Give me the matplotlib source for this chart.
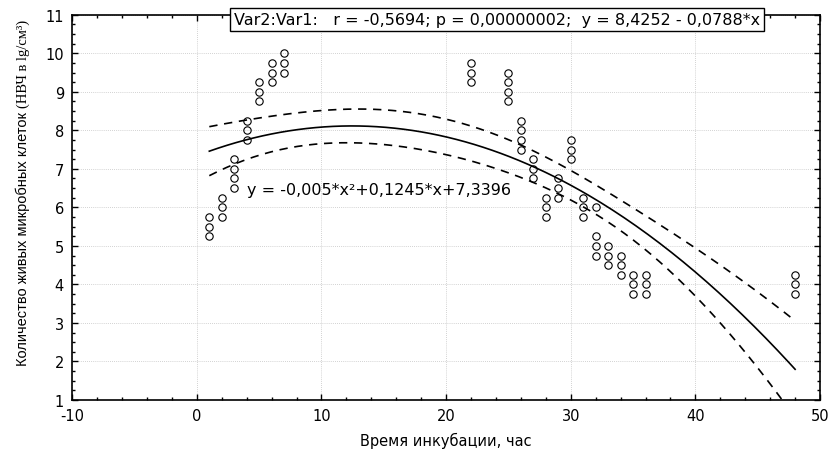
import numpy as np
import matplotlib.pyplot as plt
from matplotlib.ticker import MultipleLocator
from matplotlib import font_manager

plt.rcParams['font.family'] = ['DejaVu Sans']
plt.rcParams['axes.unicode_minus'] = False

names = {f.name for f in font_manager.fontManager.ttflist}
narrow = 'Liberation Sans Narrow' if 'Liberation Sans Narrow' in names else 'Liberation Sans'

# incubation time (h) and log counts
hours = [1, 1, 1,
         2, 2, 2,
         3, 3, 3, 3,
         4, 4, 4,
         5, 5, 5,
         6, 6, 6,
         7, 7, 7,
         22, 22, 22,
         25, 25, 25, 25,
         26, 26, 26, 26,
         27, 27, 27,
         28, 28, 28,
         29, 29, 29,
         30, 30, 30,
         31, 31, 31,
         32, 32, 32, 32,
         33, 33, 33,
         34, 34, 34,
         35, 35, 35,
         36, 36, 36,
         48, 48, 48]
counts = [5.25, 5.5, 5.75,
          5.75, 6.0, 6.25,
          6.5, 6.75, 7.0, 7.25,
          7.75, 8.0, 8.25,
          8.75, 9.0, 9.25,
          9.25, 9.5, 9.75,
          9.5, 9.75, 10.0,
          9.25, 9.5, 9.75,
          8.75, 9.0, 9.25, 9.5,
          7.5, 7.75, 8.0, 8.25,
          6.75, 7.0, 7.25,
          5.75, 6.0, 6.25,
          6.25, 6.5, 6.75,
          7.25, 7.5, 7.75,
          5.75, 6.0, 6.25,
          4.75, 5.0, 5.25, 6.0,
          4.5, 4.75, 5.0,
          4.25, 4.5, 4.75,
          3.75, 4.0, 4.25,
          3.75, 4.0, 4.25,
          3.75, 4.0, 4.25]

quad_coef = [-0.005, 0.1245, 7.3396]
stat_text = 'Var2:Var1:   r = -0,5694; p = 0,00000002;  y = 8,4252 - 0,0788*x'
eq_text = 'y = -0,005*x²+0,1245*x+7,3396'
ylab_main = 'Количество живых микробных клеток '
ylab_unit = '(НВЧ в lg/см³)'

x = np.array(hours, dtype=float)
y = np.array(counts)

# quadratic curve + 95% confidence band
X = np.column_stack([x**2, x, np.ones_like(x)])
beta, *_ = np.linalg.lstsq(X, y, rcond=None)
resid = y - X @ beta
s2 = resid @ resid / (len(x) - 3)
cov = s2 * np.linalg.inv(X.T @ X)
xs = np.linspace(x.min(), x.max(), 200)
Xs = np.column_stack([xs**2, xs, np.ones_like(xs)])
ys = np.polyval(quad_coef, xs)
se = np.sqrt(np.einsum('ij,jk,ik->i', Xs, cov, Xs))
t_crit = 1.8

fig = plt.figure(figsize=(8.3, 4.52), dpi=100)
ax = fig.add_axes([0.087, 0.113, 0.901, 0.852])

ax.plot(xs, ys, color='black', lw=1.2)
ax.plot(xs, ys + t_crit * se, color='black', lw=1.2, ls=(0, (5, 4)))
ax.plot(xs, ys - t_crit * se, color='black', lw=1.2, ls=(0, (5, 4)))
ax.plot(x, y, 'o', ms=5.3, mfc='none', mec='black', mew=0.8)

ax.set_xlim(-10, 50)
ax.set_ylim(1, 11)
ax.xaxis.set_major_locator(MultipleLocator(10))
ax.xaxis.set_minor_locator(MultipleLocator(2))
ax.yaxis.set_major_locator(MultipleLocator(1))
ax.yaxis.set_minor_locator(MultipleLocator(0.25))
ax.tick_params(which='both', direction='in', top=True, right=True,
               labelsize=10.5, pad=6)
ax.tick_params(which='major', length=4, width=1)
ax.tick_params(which='minor', length=2.5, width=1)
ax.grid(True, which='major', color='#c4c4c4', ls=(0, (1, 1.5)), lw=0.6)
for sp in ax.spines.values():
    sp.set_linewidth(1.2)

ax.set_xlabel('Время инкубации, час', fontsize=10.5, labelpad=6)

# y label: sans part + serif units, running bottom to top
t1 = fig.text(0.028, 0.19, ylab_main, rotation=90, family=narrow, fontsize=10.5,
              ha='left', va='center', rotation_mode='anchor')
fig.canvas.draw()
bb = t1.get_window_extent().transformed(fig.transFigure.inverted())
fig.text(0.028, bb.y1, ylab_unit, rotation=90, family='Liberation Serif',
         fontsize=10.5, ha='left', va='center', rotation_mode='anchor')

ax.text(4.0, 6.47, eq_text, fontsize=11.5, va='center', ha='left')
fig.text(0.599, 0.955, stat_text, fontsize=11.5, ha='center', va='center',
         bbox=dict(boxstyle='square,pad=0.25', fc='white', ec='black', lw=1))

fig.savefig('out.png', dpi=100)
